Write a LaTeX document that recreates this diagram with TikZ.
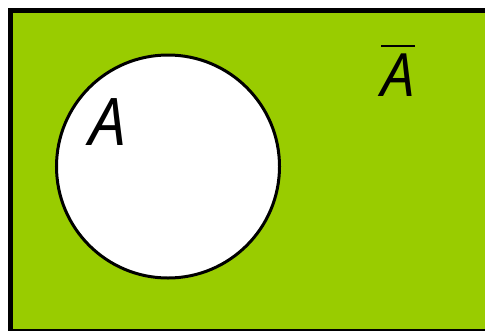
\documentclass[tikz,border=0pt]{standalone}
\usepackage{fontspec}
\setmainfont{Open Sans}
\definecolor{setgreen}{RGB}{153,204,0}
\newcommand\myoverbar[1]{\vbox{\hrule height 2bp\kern 6bp\hbox{#1}}}
\tikzset{
  universe/.style={fill=setgreen, draw=black, line width=5bp},
  setcircle/.style={fill=white, draw=black, line width=3bp},
  setlabel/.style={inner sep=0pt, anchor=base, font=\itshape}
}
\begin{document}
\begin{tikzpicture}[x=1bp,y=-1bp]
\useasboundingbox (0,0) rectangle (485,330);
\clip (0,0) rectangle (485,330);
\node[universe, minimum width=500bp, minimum height=320.5bp, anchor=north west, inner sep=0pt] (U) at (8,8) {};
\node[setcircle, circle, minimum size=223bp, inner sep=0pt] (S) at (168,166.5) {};
\node[setlabel, font=\itshape\fontsize{66}{66}\selectfont] (la) at (108,145) {A};
\node[setlabel, font=\itshape\fontsize{60}{60}\selectfont] (lc) at (398,96) {\myoverbar{A}};
\end{tikzpicture}
\end{document}
